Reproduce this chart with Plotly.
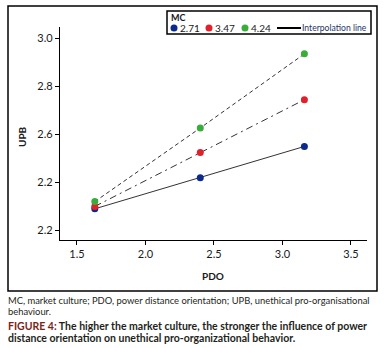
import plotly.graph_objects as go

# ---- data ----
pdo = [1.63, 2.40, 3.16]
mc_levels = ["2.71", "3.47", "4.24"]
upb_low = [2.29, 2.42, 2.55]
upb_mid = [2.30, 2.525, 2.745]
upb_high = [2.32, 2.627, 2.936]
y_tickvals = [2.2, 2.4, 2.6, 2.8, 3.0]
y_ticktext = ["2.2", "2.2", "2.6", "2.8", "3.0"]
x_tickvals = [1.5, 2.0, 2.5, 3.0, 3.5]
x_ticktext = ["1.5", "2.0", "2.5", "3.0", "3.5"]

colors = ["#0b2a8c", "#e0202a", "#3aac3a"]
dashes = ["solid", "7px,4px,2px,4px", "4px,3px"]
series = [upb_low, upb_mid, upb_high]

W, H = 387, 348
L, R, T, B = 60, 20, 27, 108
pw, ph = W - L - R, H - T - B

def px(x):
    return (x - L) / pw

def py(y):
    return (H - B - y) / ph

FONT = "Lato"

fig = go.Figure()
for vals, d in zip(series, dashes):
    fig.add_trace(go.Scatter(x=pdo, y=vals, mode="lines",
                             line=dict(color="#333333", width=1, dash=d),
                             showlegend=False, hoverinfo="skip"))
for vals, c, name in zip(series, colors, mc_levels):
    fig.add_trace(go.Scatter(x=pdo, y=vals, mode="markers", name=name,
                             marker=dict(color=c, size=7), showlegend=False))

shapes = []
annotations = []
# outer frame
shapes.append(dict(type="rect", xref="paper", yref="paper",
                   x0=px(8), x1=px(377), y0=py(291), y1=py(6),
                   line=dict(color="black", width=1.5)))
# legend box
shapes.append(dict(type="rect", xref="paper", yref="paper",
                   x0=px(167), x1=px(371), y0=py(34), y1=py(11),
                   line=dict(color="black", width=1.5), fillcolor="white"))
annotations.append(dict(xref="paper", yref="paper", x=px(169), y=py(17),
                        text="<b>MC</b>", showarrow=False, xanchor="left", yanchor="middle",
                        font=dict(family=FONT, size=9, color="#1a1a1a")))
leg_mx = [174, 209, 245]
for mx, c, name in zip(leg_mx, colors, mc_levels):
    shapes.append(dict(type="circle", xref="paper", yref="paper",
                       xsizemode="pixel", ysizemode="pixel",
                       xanchor=px(mx), yanchor=py(28),
                       x0=-3.5, x1=3.5, y0=-3.5, y1=3.5,
                       fillcolor=c, line=dict(width=0)))
    annotations.append(dict(xref="paper", yref="paper", x=px(mx + 4), y=py(28),
                            text=name, showarrow=False, xanchor="left", yanchor="middle",
                            font=dict(family=FONT, size=10, color="#1a1a1a")))
shapes.append(dict(type="line", xref="paper", yref="paper",
                   x0=px(277), x1=px(301), y0=py(28), y1=py(28),
                   line=dict(color="black", width=2)))
annotations.append(dict(xref="paper", yref="paper", x=px(300), y=py(28),
                        text="Interpolation line", showarrow=False, xanchor="left", yanchor="middle",
                        font=dict(family=FONT, size=8.6, color="#1f3466")))

# axis titles
annotations.append(dict(xref="paper", yref="paper", x=px(22), y=py(137),
                        text="<b>UPB</b>", showarrow=False, textangle=-90,
                        xanchor="center", yanchor="middle",
                        font=dict(family=FONT, size=10, color="#1a1a1a")))
annotations.append(dict(xref="paper", yref="paper", x=px(213), y=py(276),
                        text="<b>PDO</b>", showarrow=False,
                        xanchor="center", yanchor="middle",
                        font=dict(family=FONT, size=10, color="#1a1a1a")))

# captions
cap = dict(family=FONT, size=9.4, color="#231f20")
capb = dict(family=FONT, size=10.5, color="#231f20")
annotations.append(dict(xref="paper", yref="paper", x=px(6), y=py(300),
                        text="MC, market culture; PDO, power distance orientation; UPB, unethical pro-organisational",
                        showarrow=False, xanchor="left", yanchor="middle", font=cap))
annotations.append(dict(xref="paper", yref="paper", x=px(6), y=py(311),
                        text="behaviour.",
                        showarrow=False, xanchor="left", yanchor="middle", font=cap))
annotations.append(dict(xref="paper", yref="paper", x=px(6), y=py(326),
                        text="<b><span style='color:#7a2418'>FIGURE 4:</span> The higher the market culture, the stronger the influence of power</b>",
                        showarrow=False, xanchor="left", yanchor="middle", font=capb))
annotations.append(dict(xref="paper", yref="paper", x=px(6), y=py(338),
                        text="<b>distance orientation on unethical pro-organizational behavior.</b>",
                        showarrow=False, xanchor="left", yanchor="middle", font=capb))

fig.update_layout(
    width=W, height=H,
    margin=dict(l=L, r=R, t=T, b=B),
    paper_bgcolor="white", plot_bgcolor="white",
    shapes=shapes, annotations=annotations,
    font=dict(family=FONT, size=11, color="#1a1a1a"),
)
fig.update_xaxes(range=[1.376, 3.617], tickvals=x_tickvals, ticktext=x_ticktext,
                 showgrid=False, zeroline=False, showline=True, linecolor="black", linewidth=1.2,
                 ticks="outside", ticklen=4, tickcolor="black",
                 tickfont=dict(family=FONT, size=11))
fig.update_yaxes(range=[2.16, 3.048], tickvals=y_tickvals, ticktext=y_ticktext,
                 showgrid=False, zeroline=False, showline=True, linecolor="black", linewidth=1.2,
                 ticks="outside", ticklen=4, tickcolor="black",
                 tickfont=dict(family=FONT, size=11))

fig.write_html("out.html", config={"displayModeBar": False},
               post_script="document.body.style.margin='0px';")
